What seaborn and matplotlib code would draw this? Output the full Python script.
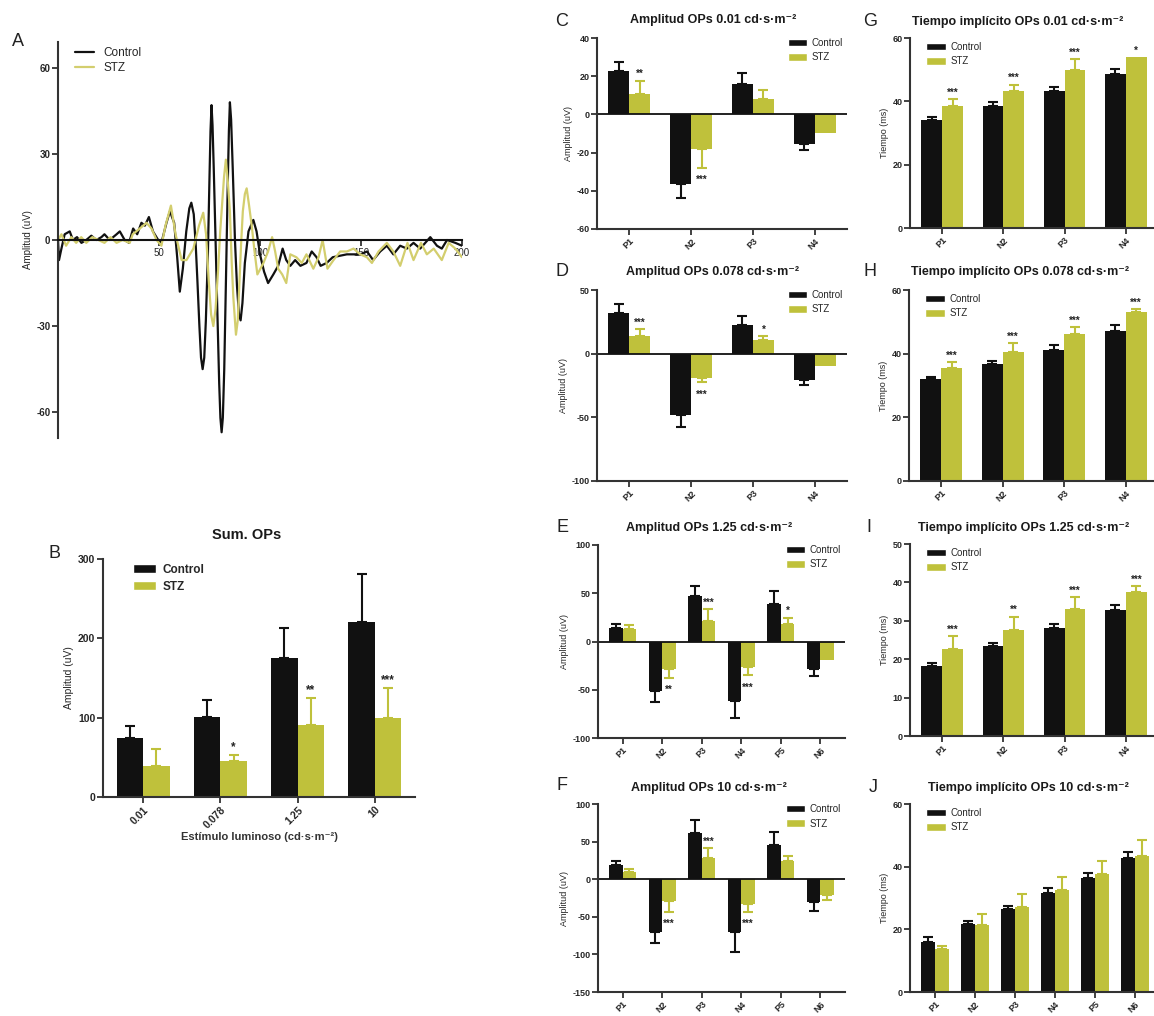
import matplotlib
matplotlib.use("Agg")
import matplotlib.pyplot as plt
from matplotlib.patches import Patch
import pandas as pd
import seaborn as sns

sns.set_style("ticks")
plt.rcParams["font.family"] = ["Liberation Sans", "DejaVu Sans"]
plt.rcParams["axes.unicode_minus"] = False

BLACK = "#111111"
YELLOW = "#bfc13b"
YELLOW_LINE = "#d3ce6e"
SPINE = "#333333"
W, H = 1154, 1016

# ---------------------------------------------------------------
# Panel A: OP traces (time in ms, amplitude in uV)
# ---------------------------------------------------------------
control_ms = [0, 0.5, 1.7, 3.3, 5.8, 7.4, 9.4, 11.6, 14, 16.5,
              19, 21.5, 23, 25.6, 29, 30.6, 33, 35.2, 37.2, 39.2,
              41.3, 43, 45, 47, 49.6, 51.2, 53.7, 55.4, 57.5, 59,
              60.3, 61.8, 63.5, 65, 66, 67.2, 68.2, 69, 70, 70.8,
              71.6, 72.4, 73.2, 74.2, 75, 75.5, 76, 76.5, 77.1, 78,
              79, 79.8, 80.4, 81, 81.6, 82.3, 83.2, 84, 84.6, 85.1,
              85.7, 86.5, 87.6, 88.6, 89.6, 90.4, 91.3, 92.5, 94.3, 96.7,
              98.3, 100, 102, 104, 106.6, 109, 111.2, 113, 115, 117.4,
              120, 123, 125.6, 128, 130, 133, 136, 143, 149.6, 153,
              156, 159.5, 162.8, 166, 169.4, 172.7, 176, 179.3, 184.3, 187.6,
              190, 192.6, 196.7, 200]
control_uv = [0, -7, -3, 2, 3, 0, 1, -1, 0, 1.5,
              0, 1, 2, 0, 2, 3, 0, -1, 4, 2,
              6, 5, 8, 3, 0, -1, 6, 10, 6, -6,
              -18, -10, 3, 11, 13, 9, -2, -14, -30, -41,
              -45, -41, -28, -5, 22, 38, 47, 40, 25, 0,
              -28, -50, -62, -67, -62, -45, -12, 18, 38, 48,
              42, 25, 0, -16, -26, -28, -22, -8, 3, 7,
              3, -5, -11, -15, -12, -9, -3, -7, -9, -7,
              -9, -8, -4, -6, -9, -8, -6, -5, -5, -4,
              -7, -4, -2, -5, -2, -3, -1, -3, 1, -2,
              -3, 0, -1, -2]

stz_ms = [0, 1.7, 4, 6.6, 9, 11.5, 14, 17, 20, 23,
          26, 29, 32, 35.5, 37, 40.5, 43.8, 46.3, 48.8, 51.2,
          53.2, 55.9, 58.2, 61.2, 63.6, 67, 69.8, 71.9, 73.3, 74.6,
          75.8, 76.9, 78, 79.3, 80.3, 81.2, 82.2, 83.1, 84.1, 85.1,
          86, 86.8, 88.1, 89, 89.8, 90.6, 91.5, 92.5, 93.4, 94.6,
          95.9, 97.3, 98.7, 100.2, 101.7, 104, 106, 107.5, 109, 111,
          113, 115, 118, 120.7, 123, 126.4, 129, 131, 133.4, 136.4,
          139.7, 143, 146.3, 149.6, 152.9, 155.4, 158.7, 162.8, 166, 169.4,
          173, 176, 179.7, 182.6, 186, 190, 193.4, 196.7, 200]
stz_uv = [0, 2, -2, 1, -1, 1, -1, 1, 0, -1,
          1, -1, 0, -1, 2, 4, 6, 4, 0, -2,
          5, 12, 2, -7, -7, -3, 5, 9.5, 2, -14,
          -26, -30, -24, -10, 3, 12, 22, 28, 20, 10,
          -8, -20, -33, -28, -15, -2, 10, 16, 18, 12,
          5, -4, -12, -10, -8, -4, 1, -4, -10, -12,
          -15, -5, -6, -8, -5, -10, -6, 0, -10, -7,
          -4, -4, -3, -5, -6, -8, -4, -1, -4, -9,
          -1, -7, -1, -5, -3, -7, -1, -3, -6]

# ---------------------------------------------------------------
# Panel B: summed OPs per flash intensity
# ---------------------------------------------------------------
sum_levels = ["0.01", "0.078", "1.25", "10"]
sum_ctrl = [74, 101, 175, 220]
sum_ctrl_err = [16, 21, 38, 61]
sum_stz = [39, 45, 91, 99]
sum_stz_err = [21, 8, 34, 39]
sum_stars = ["", "*", "**", "***"]

# ---------------------------------------------------------------
# Panels C-F: OP amplitudes (uV)
# ---------------------------------------------------------------
peaks4 = ["P1", "N2", "P3", "N4"]
peaks6 = ["P1", "N2", "P3", "N4", "P5", "N6"]

c_ctrl = [22.5, -36.3, 16, -15.6]
c_ctrl_err = [5, 7.6, 5.6, 3.2]
c_stz = [10.7, -17.9, 7.9, -9.6]
c_stz_err = [7, 10, 4.9, 0]
c_stars = ["**", "***", "", ""]

d_ctrl = [32.1, -47.9, 22.4, -20.5]
d_ctrl_err = [6.6, 9.5, 7.1, 4.5]
d_stz = [13.7, -19.2, 10.5, -9.7]
d_stz_err = [5.8, 3.4, 3.2, 0]
d_stars = ["***", "***", "*", ""]

e_ctrl = [13.8, -51.7, 47.2, -62, 38.6, -28.6]
e_ctrl_err = [4.1, 11.3, 10.4, 17.3, 13.8, 7.6]
e_stz = [12.8, -28.6, 21.7, -26.6, 18.3, -19]
e_stz_err = [3.8, 9.4, 11.7, 8.6, 6.5, 0]
e_stars = ["", "**", "***", "***", "*", ""]

f_ctrl = [18.5, -70.3, 61.2, -70.3, 46.1, -30.2]
f_ctrl_err = [5.2, 14.7, 17.7, 26.7, 17.3, 11.6]
f_stz = [9.9, -28.9, 28, -33.6, 24.6, -21.6]
f_stz_err = [3, 15.1, 13.8, 9.5, 6.9, 6.4]
f_stars = ["", "***", "***", "***", "", ""]

# ---------------------------------------------------------------
# Panels G-J: OP implicit times (ms)
# ---------------------------------------------------------------
g_ctrl = [34.2, 38.6, 43.2, 48.6]
g_ctrl_err = [0.8, 1.3, 1.3, 1.7]
g_stz = [38.4, 43.4, 49.8, 53.9]
g_stz_err = [2.3, 1.9, 3.6, 0]
g_stars = ["***", "***", "***", "*"]

h_ctrl = [31.9, 36.6, 41.3, 47]
h_ctrl_err = [0.8, 1.2, 1.4, 2]
h_stz = [35.4, 40.6, 46.2, 53]
h_stz_err = [2, 2.6, 2.1, 1]
h_stars = ["***", "***", "***", "***"]

i_ctrl = [18.1, 23.5, 28.1, 32.7]
i_ctrl_err = [1, 0.8, 1.1, 1.3]
i_stz = [22.6, 27.7, 33.1, 37.4]
i_stz_err = [3.5, 3.4, 3.1, 1.7]
i_stars = ["***", "**", "***", "***"]

j_ctrl = [15.8, 21.7, 26.4, 31.6, 36.3, 42.8]
j_ctrl_err = [1.6, 0.9, 1, 1.6, 1.8, 1.9]
j_stz = [13.7, 21.4, 27.2, 32.7, 37.6, 43.3]
j_stz_err = [1, 3.6, 4.2, 3.9, 4.2, 5.2]
j_stars = ["", "", "", "", "", ""]

UNIT = "cd\u00b7s\u00b7m\u207b\u00b2"

fig = plt.figure(figsize=(W / 100, H / 100), dpi=100)


def add_ax(left, top, right, bottom):
    return fig.add_axes([left / W, 1 - bottom / H, (right - left) / W, (bottom - top) / H])


def style_ax(ax, tick_size=6.5):
    sns.despine(ax=ax)
    for s in ["left", "bottom"]:
        ax.spines[s].set_color(SPINE)
        ax.spines[s].set_linewidth(1.5)
    ax.tick_params(length=4, width=1.3, color=SPINE, labelsize=tick_size, pad=1.5)
    for lbl in ax.get_xticklabels() + ax.get_yticklabels():
        lbl.set_fontweight("bold")


def bar_panel(ax, cats, ctrl, ctrl_err, stz, stz_err, stars, ylim, yticks, ylabel,
              zero_line=True, tick_size=6.5, star_size=7):
    df = pd.DataFrame({
        "pico": cats * 2,
        "grupo": ["Control"] * len(cats) + ["STZ"] * len(cats),
        "valor": ctrl + stz,
    })
    sns.barplot(data=df, x="pico", y="valor", hue="grupo", order=cats,
                hue_order=["Control", "STZ"], palette=[BLACK, YELLOW],
                saturation=1, width=0.68, errorbar=None, legend=False,
                linewidth=0, ax=ax)
    for cont, vals, errs, col in zip(ax.containers, [ctrl, stz], [ctrl_err, stz_err],
                                     [BLACK, YELLOW]):
        for bar, v, e in zip(cont, vals, errs):
            if not e:
                continue
            x = bar.get_x() + bar.get_width() / 2
            yerr = [[0], [e]] if v >= 0 else [[e], [0]]
            ax.errorbar([x], [v], yerr=yerr, fmt="none", ecolor=col,
                        elinewidth=1.5, capsize=3.6, capthick=1.5, zorder=3)
    for bar, v, e, s in zip(ax.containers[1], stz, stz_err, stars):
        if not s:
            continue
        x = bar.get_x() + bar.get_width() / 2
        end = v + e if v >= 0 else v - e
        if v >= 0:
            ax.annotate(s, (x, end), xytext=(0, 1), textcoords="offset points",
                        ha="center", va="bottom", fontsize=star_size, fontweight="bold",
                        color="#222222")
        else:
            ax.annotate(s, (x, end), xytext=(0, -5), textcoords="offset points",
                        ha="center", va="top", fontsize=star_size, fontweight="bold",
                        color="#222222")
    if zero_line:
        ax.axhline(0, color=BLACK, lw=1.3, zorder=2)
    ax.set_ylim(*ylim)
    ax.set_yticks(yticks)
    ax.set_xlabel("")
    ax.set_ylabel(ylabel, fontsize=6.5, labelpad=2)
    style_ax(ax, tick_size)
    plt.setp(ax.get_xticklabels(), rotation=45, ha="right", rotation_mode="anchor")


def group_legend(ax, loc, anchor, size=7, bold=False):
    handles = [Patch(facecolor=BLACK, label="Control"), Patch(facecolor=YELLOW, label="STZ")]
    leg = ax.legend(handles=handles, loc=loc, bbox_to_anchor=anchor, frameon=False,
                    fontsize=size, handlelength=2.0, handleheight=0.8,
                    handletextpad=0.5, labelspacing=0.45, borderaxespad=0)
    if bold:
        for t in leg.get_texts():
            t.set_fontweight("bold")


def ftext(x, y, s, **kw):
    fig.text(x / W, 1 - y / H, s, **kw)


# ---------------- Panel A ----------------
axA = add_ax(58, 42, 462, 438)
sns.lineplot(x=control_ms, y=control_uv, ax=axA, color=BLACK, lw=1.6, sort=False,
             estimator=None, label="Control")
sns.lineplot(x=stz_ms, y=stz_uv, ax=axA, color=YELLOW_LINE, lw=1.6, sort=False,
             estimator=None, label="STZ")
axA.set_xlim(0, 200)
axA.set_ylim(-69, 69)
axA.set_xticks([50, 100, 150, 200])
axA.set_yticks([-60, -30, 0, 30, 60])
axA.set_ylabel("Amplitud (uV)", fontsize=7, labelpad=2)
style_ax(axA, 7)
axA.spines["bottom"].set_position(("data", 0))
axA.spines["bottom"].set_color(BLACK)
axA.legend(loc="upper left", bbox_to_anchor=(0.03, 1.0), frameon=False, fontsize=8.5,
           handlelength=1.6, handletextpad=0.8, labelspacing=0.3, borderaxespad=0)

# ---------------- Panel B ----------------
axB = add_ax(103, 559, 415, 797)
bar_panel(axB, sum_levels, sum_ctrl, sum_ctrl_err, sum_stz, sum_stz_err, sum_stars,
          (0, 300), [0, 100, 200, 300], "Amplitud (uV)", zero_line=False,
          tick_size=7.5, star_size=8.5)
axB.set_ylabel("Amplitud (uV)", fontsize=7.5, labelpad=3)
axB.set_xlabel("Est\u00edmulo luminoso (" + UNIT + ")", fontsize=8, fontweight="bold",
               labelpad=1, color="#333333")
group_legend(axB, "upper left", (0.08, 1.0), size=8.5, bold=True)

# ---------------- Panels C-F ----------------
axC = add_ax(597, 38, 847, 229)
bar_panel(axC, peaks4, c_ctrl, c_ctrl_err, c_stz, c_stz_err, c_stars,
          (-60, 40), [-60, -40, -20, 0, 20, 40], "Amplitud (uV)")
group_legend(axC, "upper right", (1.0, 1.02))

axD = add_ax(597, 290, 847, 481)
bar_panel(axD, peaks4, d_ctrl, d_ctrl_err, d_stz, d_stz_err, d_stars,
          (-100, 50), [-100, -50, 0, 50], "Amplitud (uV)")
group_legend(axD, "upper right", (1.0, 1.02))

axE = add_ax(598, 545, 845, 738)
bar_panel(axE, peaks6, e_ctrl, e_ctrl_err, e_stz, e_stz_err, e_stars,
          (-100, 100), [-100, -50, 0, 50, 100], "Amplitud (uV)")
group_legend(axE, "upper right", (1.0, 1.02))

axF = add_ax(598, 804, 845, 992)
bar_panel(axF, peaks6, f_ctrl, f_ctrl_err, f_stz, f_stz_err, f_stars,
          (-150, 100), [-150, -100, -50, 0, 50, 100], "Amplitud (uV)")
group_legend(axF, "upper right", (1.0, 1.02))

# ---------------- Panels G-J ----------------
axG = add_ax(910, 38, 1158, 228)
bar_panel(axG, peaks4, g_ctrl, g_ctrl_err, g_stz, g_stz_err, g_stars,
          (0, 60), [0, 20, 40, 60], "Tiempo (ms)", zero_line=False)
group_legend(axG, "upper left", (0.05, 1.0))

axH = add_ax(909, 290, 1158, 481)
bar_panel(axH, peaks4, h_ctrl, h_ctrl_err, h_stz, h_stz_err, h_stars,
          (0, 60), [0, 20, 40, 60], "Tiempo (ms)", zero_line=False)
group_legend(axH, "upper left", (0.05, 1.0))

axI = add_ax(910, 544, 1158, 736)
bar_panel(axI, peaks4, i_ctrl, i_ctrl_err, i_stz, i_stz_err, i_stars,
          (0, 50), [0, 10, 20, 30, 40, 50], "Tiempo (ms)", zero_line=False)
group_legend(axI, "upper left", (0.05, 1.0))

axJ = add_ax(910, 804, 1160, 992)
bar_panel(axJ, peaks6, j_ctrl, j_ctrl_err, j_stz, j_stz_err, j_stars,
          (0, 60), [0, 20, 40, 60], "Tiempo (ms)", zero_line=False)
group_legend(axJ, "upper left", (0.05, 1.0))

# ---------------- titles and panel letters ----------------
title_kw = dict(fontsize=9, fontweight="bold", ha="center", va="center", color="#1a1a1a")
ftext(713, 20, "Amplitud OPs 0.01 " + UNIT, **title_kw)
ftext(713, 272, "Amplitud OPs 0.078 " + UNIT, **title_kw)
ftext(709, 528, "Amplitud OPs 1.25 " + UNIT, **title_kw)
ftext(709, 788, "Amplitud OPs 10 " + UNIT, **title_kw)
ftext(1018, 22, "Tiempo impl\u00edcito OPs 0.01 " + UNIT, **title_kw)
ftext(1020, 272, "Tiempo impl\u00edcito OPs 0.078 " + UNIT, **title_kw)
ftext(1024, 528, "Tiempo impl\u00edcito OPs 1.25 " + UNIT, **title_kw)
ftext(1028, 788, "Tiempo impl\u00edcito OPs 10 " + UNIT, **title_kw)
ftext(247, 535, "Sum. OPs", fontsize=10.5, fontweight="bold", ha="center", va="center",
      color="#1a1a1a")

letter_kw = dict(fontsize=13, ha="center", va="center", color="#222222")
for letter, x, y in [("A", 18, 42), ("B", 55, 553), ("C", 562, 22), ("D", 562, 272),
                     ("E", 563, 528), ("F", 562, 785), ("G", 870, 22), ("H", 870, 272),
                     ("I", 869, 528), ("J", 873, 788)]:
    ftext(x, y, letter, **letter_kw)

fig.savefig("out.png", dpi=100, facecolor="white")
